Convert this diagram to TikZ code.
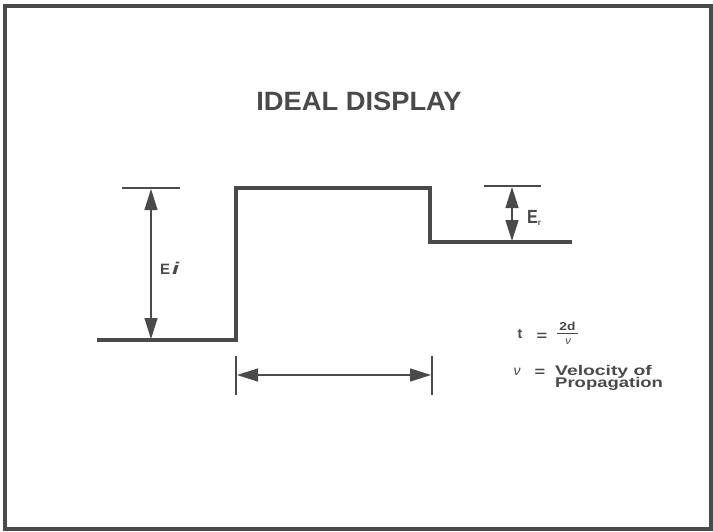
\documentclass[tikz,border=0pt]{standalone}
\usepackage{fontspec}
\setmainfont{Liberation Sans}
\usetikzlibrary{arrows.meta}
\definecolor{ink}{HTML}{4A4A4A}
\tikzset{
  wave/.style={line width=4pt, ink},
  thinline/.style={line width=1.6pt, ink},
  dimarrow/.style={line width=1.4pt, ink, {Triangle[length=21pt,width=13pt]}-{Triangle[length=21pt,width=13pt]}},
  lbl/.style={font=\bfseries\fontsize{14}{15}\selectfont, text=ink, inner sep=0pt},
  small/.style={font=\bfseries\fontsize{11.5}{12}\selectfont, text=ink, inner sep=0pt},
}
\begin{document}
\begin{tikzpicture}[x=1pt,y=-1pt]
\useasboundingbox (0,0) rectangle (713,531);
\fill[white] (0,0) rectangle (713,531);
\draw[line width=4pt, ink] (5,6) rectangle (711,529);
\node[font=\bfseries\fontsize{26.5}{28}\selectfont, text=ink, inner sep=0pt] (title) at (359,101.5) {\scalebox{1.03}[1]{IDEAL DISPLAY}};
% waveform
\coordinate (w0) at (97,340);
\coordinate (w1) at (236,340);
\coordinate (w2) at (236,188);
\coordinate (w3) at (430,188);
\coordinate (w4) at (430,242);
\coordinate (w5) at (572,242);
\draw[wave] (w0) -- (w1) -- (w2) -- (w3) -- (w4) -- (w5);
% left reference
\coordinate (l0) at (122,188);
\coordinate (l1) at (180,188);
\draw[thinline] (l0) -- (l1);
\coordinate (ea) at (151,189);
\coordinate (eb) at (151,339);
\draw[dimarrow] (ea) -- (eb);
\node[lbl, anchor=base west] (ei) at (160,274.5) {\fontsize{15}{15}\selectfont E\kern2pt\scalebox{1.5}[1]{\textit{\fontsize{17}{17}\selectfont i}}};
% right reference
\coordinate (r0) at (484,186);
\coordinate (r1) at (541,186);
\draw[thinline] (r0) -- (r1);
\coordinate (ra) at (512,187);
\coordinate (rb) at (512,241);
\draw[dimarrow] (ra) -- (rb);
\node[lbl, anchor=base west] (er) at (527,223) {\scalebox{0.85}[1]{\fontsize{19}{19}\selectfont E}\raisebox{-2pt}{\fontsize{8}{8}\selectfont r}};
% time dimension
\coordinate (t0a) at (236,356);
\coordinate (t0b) at (236,395);
\coordinate (t1a) at (432,356);
\coordinate (t1b) at (432,395);
\draw[thinline] (t0a) -- (t0b);
\draw[thinline] (t1a) -- (t1b);
\coordinate (ha) at (237,375);
\coordinate (hb) at (431,375);
\draw[dimarrow] (ha) -- (hb);
% formula t = 2d / v
\node[lbl, anchor=base] (tt) at (520,338) {t};
\node[lbl, anchor=base] (teq) at (542,340) {\scalebox{1.3}[1]{=}};
\node[small, anchor=base] (num) at (567.5,330) {\scalebox{1.2}[1]{2d}};
\coordinate (fr0) at (557,333.5);
\coordinate (fr1) at (578,333.5);
\draw[line width=1pt, ink] (fr0) -- (fr1);
\node[anchor=base, text=ink, inner sep=0pt, font=\mdseries\itshape\fontsize{11}{12}\selectfont] (den) at (568,344.5) {ν};
% formula v = Velocity of Propagation
\node[anchor=base, text=ink, inner sep=0pt, font=\mdseries\itshape\fontsize{14}{15}\selectfont] (nu) at (517,375) {ν};
\node[lbl, anchor=base] (veq) at (540,376) {\scalebox{1.3}[1]{=}};
\node[lbl, anchor=base west] (vel) at (555,375) {\scalebox{1.38}[1]{Velocity of}};
\node[lbl, anchor=base west] (prop) at (555,387.5) {\scalebox{1.32}[1]{Propagation}};
\end{tikzpicture}
\end{document}
